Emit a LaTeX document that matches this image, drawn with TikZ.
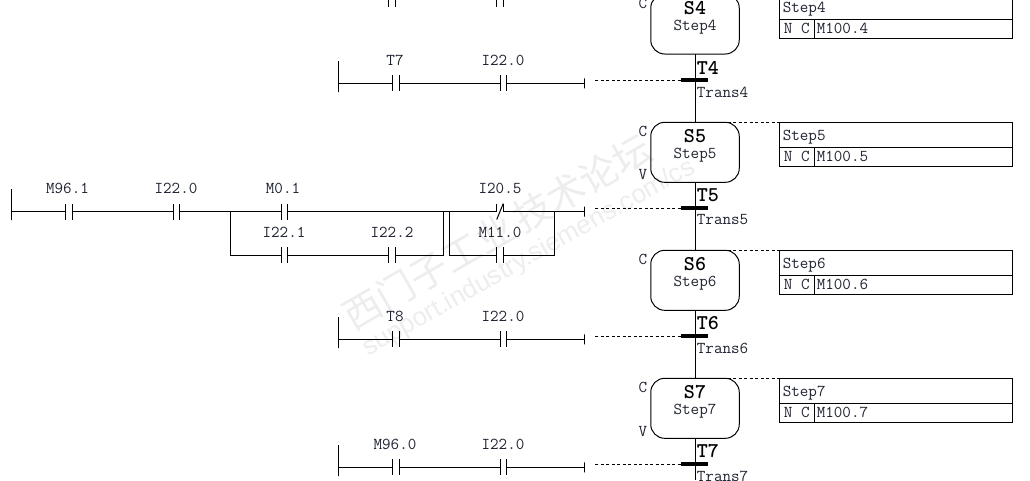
\documentclass[tikz,border=0pt]{standalone}
\usepackage{fontspec}
\setsansfont{Liberation Sans}
\newfontfamily\cjk{Noto Sans CJK SC}
\definecolor{labelink}{HTML}{1E2230}
\definecolor{markink}{HTML}{EDEDED}
\tikzset{
	wire/.style={line width=1pt,black},
	dashwire/.style={line width=1pt,black,dash pattern=on 3pt off 2.5pt},
	contact/.style={minimum width=6.5,minimum height=16,inner sep=0,outer sep=0,
		append after command={(\tikzlastnode.north west) edge[wire] (\tikzlastnode.south west)
			(\tikzlastnode.north east) edge[wire] (\tikzlastnode.south east)}},
	contactnc/.style={minimum width=6.5,minimum height=16,inner sep=0,outer sep=0,
		append after command={(\tikzlastnode.north west) edge[wire] (\tikzlastnode.west)
			(\tikzlastnode.north east) edge[wire] (\tikzlastnode.east)
			(\tikzlastnode.north east) edge[wire] (\tikzlastnode.south west)}},
	railbar/.style={draw,line width=1pt,minimum width=0,minimum height=31,inner sep=0,outer sep=0},
	railend/.style={draw,line width=1pt,minimum width=0,minimum height=10,inner sep=0,outer sep=0},
	transbar/.style={fill=black,minimum width=27,minimum height=4,inner sep=0,outer sep=0},
	stepbox/.style={draw,line width=1pt,rounded corners=14,minimum width=88.5,minimum height=60,inner sep=0,outer sep=0},
	stepname/.style={font=\ttfamily\bfseries\fontsize{21}{21}\selectfont,inner sep=0},
	transname/.style={font=\ttfamily\bfseries\fontsize{21}{21}\selectfont,inner sep=0,anchor=west},
	lbl/.style={font=\ttfamily\fontsize{16.6}{16}\selectfont,text=labelink,inner sep=0},
	lblleft/.style={lbl,anchor=west},
	acttitle/.style={draw,line width=1pt,lbl,anchor=north west,minimum width=233,minimum height=25,text width=226,text height=12,text depth=0,inner xsep=3.5,inner ysep=0,outer sep=0},
	actkind/.style={draw,line width=1pt,lbl,anchor=north west,minimum width=35,minimum height=19,outer sep=0},
	actop/.style={draw,line width=1pt,lbl,anchor=north west,minimum width=198,minimum height=19,text width=193,inner xsep=2.5,inner ysep=0,outer sep=0},
	markcjk/.style={font=\cjk\fontsize{38}{38}\selectfont,text=markink,rotate=30,inner sep=0},
	marklatin/.style={font=\sffamily\fontsize{26}{26}\selectfont,text=markink,rotate=29.3,inner sep=0}
}
\begin{document}
\begin{tikzpicture}[x=1pt,y=-1pt]
	\path[use as bounding box,clip] (0,0) rectangle (1030,480);
	% watermark
	\node[markcjk] (mark1) at (497,232) {西门子工业\,技术论坛};
	\node[marklatin] (mark2) at (529,258) {support.industry.siemens.com/cs};
	% rung above the page edge
	\node[contact] (c31) at (392,-1) {};
	\node[contact] (c32) at (500,-1) {};
	% rung T4
	\node[railbar] (rail4) at (338.3,76.5) {};
	\node[contact] (c41) at (395.8,83.3) {};
	\node[contact] (c42) at (503.3,83.3) {};
	\node[railend] (end4) at (584.3,83.3) {};
	\node[lbl] (l41) at (395,60) {T7};
	\node[lbl] (l42) at (503,60) {I22.0};
	\draw[wire] (rail4 |- c41) -- (c41.west);
	\draw[wire] (c41.east) -- (c42.west);
	\draw[wire] (c42.east) -- (end4);
	% rung T5
	\node[railbar] (rail5) at (11.3,204.5) {};
	\node[contact] (c51) at (69,211.5) {};
	\node[contact] (c52) at (176.5,211.5) {};
	\node[contact] (c53) at (284.5,211.5) {};
	\node[contact] (c54) at (284.5,255) {};
	\node[contact] (c55) at (392,255) {};
	\node[contactnc] (c56) at (500,211.5) {};
	\node[contact] (c57) at (500,255) {};
	\node[railend] (end5) at (584.3,211.5) {};
	\coordinate (j1) at (230,211.5);
	\coordinate (j2) at (230,255);
	\coordinate (j3) at (443.5,211.5);
	\coordinate (j4) at (443.5,255);
	\coordinate (j5) at (449.3,211.5);
	\coordinate (j6) at (449.3,255);
	\coordinate (j7) at (554,211.5);
	\coordinate (j8) at (554,255);
	\node[lbl] (l51) at (67.5,188) {M96.1};
	\node[lbl] (l52) at (176,188) {I22.0};
	\node[lbl] (l53) at (283,188) {M0.1};
	\node[lbl] (l54) at (284,232) {I22.1};
	\node[lbl] (l55) at (392,232) {I22.2};
	\node[lbl] (l56) at (500,188) {I20.5};
	\node[lbl] (l57) at (500,232) {M11.0};
	\draw[wire] (rail5 |- c51) -- (c51.west);
	\draw[wire] (c51.east) -- (c52.west);
	\draw[wire] (c52.east) -- (j1) -- (c53.west);
	\draw[wire] (c53.east) -- (j3) -- (j5) -- (c56.west);
	\draw[wire] (c56.east) -- (j7) -- (end5);
	\draw[wire] (j1) -- (j2) -- (c54.west);
	\draw[wire] (c54.east) -- (c55.west);
	\draw[wire] (c55.east) -- (j4) -- (j3);
	\draw[wire] (j5) -- (j6) -- (c57.west);
	\draw[wire] (c57.east) -- (j8) -- (j7);
	% rung T6
	\node[railbar] (rail6) at (338.3,332.5) {};
	\node[contact] (c61) at (395.8,339.3) {};
	\node[contact] (c62) at (503.3,339.3) {};
	\node[railend] (end6) at (584.3,339.3) {};
	\node[lbl] (l61) at (395,316) {T8};
	\node[lbl] (l62) at (503,316) {I22.0};
	\draw[wire] (rail6 |- c61) -- (c61.west);
	\draw[wire] (c61.east) -- (c62.west);
	\draw[wire] (c62.east) -- (end6);
	% rung T7
	\node[railbar] (rail7) at (338.3,460.5) {};
	\node[contact] (c71) at (395.8,467.3) {};
	\node[contact] (c72) at (503.3,467.3) {};
	\node[railend] (end7) at (584.3,467.3) {};
	\node[lbl] (l71) at (395,444) {M96.0};
	\node[lbl] (l72) at (503,444) {I22.0};
	\draw[wire] (rail7 |- c71) -- (c71.west);
	\draw[wire] (c71.east) -- (c72.west);
	\draw[wire] (c72.east) -- (end7);
	% steps
	\node[stepbox] (s4) at (695,24) {};
	\node[stepbox] (s5) at (695,152.3) {};
	\node[stepbox] (s6) at (695,280.3) {};
	\node[stepbox] (s7) at (695,408.3) {};
	\node[stepname] (s4n) at (695,8) {S4};
	\node[lbl] (s4t) at (695,27) {Step4};
	\node[stepname] (s5n) at (695,136) {S5};
	\node[lbl] (s5t) at (695,155) {Step5};
	\node[stepname] (s6n) at (695,264) {S6};
	\node[lbl] (s6t) at (695,283) {Step6};
	\node[stepname] (s7n) at (695,392) {S7};
	\node[lbl] (s7t) at (695,411) {Step7};
	\node[lbl] (s4c) at (643,3) {C};
	\node[lbl] (s5c) at (643,131) {C};
	\node[lbl] (s5v) at (643,174.5) {V};
	\node[lbl] (s6c) at (643,259) {C};
	\node[lbl] (s7c) at (643,387) {C};
	\node[lbl] (s7v) at (643,431) {V};
	% transitions
	\node[transbar] (t4) at (694.5,80) {};
	\node[transbar] (t5) at (694.5,208) {};
	\node[transbar] (t6) at (694.5,336) {};
	\node[transbar] (t7) at (694.5,464) {};
	\node[transname] (t4n) at (696.7,67.5) {T4};
	\node[lblleft] (t4t) at (696.7,92) {Trans4};
	\node[transname] (t5n) at (696.7,195.5) {T5};
	\node[lblleft] (t5t) at (696.7,220) {Trans5};
	\node[transname] (t6n) at (696.7,323.5) {T6};
	\node[lblleft] (t6t) at (696.7,348) {Trans6};
	\node[transname] (t7n) at (696.7,451.5) {T7};
	\node[lblleft] (t7t) at (696.7,476) {Trans7};
	\coordinate (bottom) at (695.3,480);
	\draw[wire] (s4.south -| bottom) -- (s5.north -| bottom);
	\draw[wire] (s5.south -| bottom) -- (s6.north -| bottom);
	\draw[wire] (s6.south -| bottom) -- (s7.north -| bottom);
	\draw[wire] (s7.south -| bottom) -- (bottom);
	% dashed links to the conditions
	\coordinate (f4) at (595,80);
	\coordinate (f5) at (595,208);
	\coordinate (f6) at (595,336);
	\coordinate (f7) at (595,464);
	\draw[dashwire] (f4) -- (t4.west);
	\draw[dashwire] (f5) -- (t5.west);
	\draw[dashwire] (f6) -- (t6.west);
	\draw[dashwire] (f7) -- (t7.west);
	% action boxes
	\node[acttitle] (a4) at (779.3,-6) {Step4};
	\node[actkind] (a4k) at (a4.south west) {N C};
	\node[actop] (a4o) at (a4k.north east) {M100.4};
	\node[acttitle] (a5) at (779.3,122.3) {Step5};
	\node[actkind] (a5k) at (a5.south west) {N C};
	\node[actop] (a5o) at (a5k.north east) {M100.5};
	\node[acttitle] (a6) at (779.3,250.3) {Step6};
	\node[actkind] (a6k) at (a6.south west) {N C};
	\node[actop] (a6o) at (a6k.north east) {M100.6};
	\node[acttitle] (a7) at (779.3,378.3) {Step7};
	\node[actkind] (a7k) at (a7.south west) {N C};
	\node[actop] (a7o) at (a7k.north east) {M100.7};
	\coordinate (d5) at (722,122.3);
	\coordinate (d6) at (722,250.3);
	\coordinate (d7) at (722,378.3);
	\draw[dashwire] (d5) -- (a5.north west);
	\draw[dashwire] (d6) -- (a6.north west);
	\draw[dashwire] (d7) -- (a7.north west);
\end{tikzpicture}
\end{document}
